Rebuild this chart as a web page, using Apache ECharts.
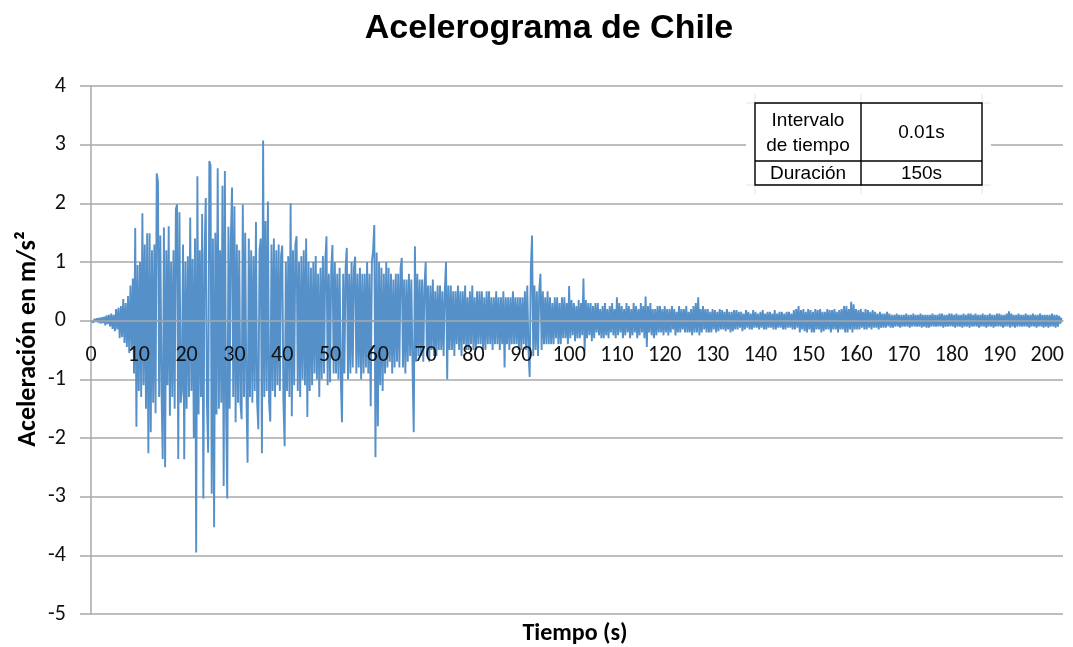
<!DOCTYPE html>
<html>
<head>
<meta charset="utf-8">
<script src="https://cdn.jsdelivr.net/npm/echarts@6/dist/echarts.min.js"></script>
<style>html,body{margin:0;padding:0;background:#fff}#c{width:1073px;height:647px}</style>
</head>
<body>
<div id="c"></div>
<script>
// ---- DATA ----
const titleText = 'Acelerograma de Chile';
const xAxisName = 'Tiempo (s)';
const yAxisName = 'Aceleración en m/s²';
const xTicks = [0,10,20,30,40,50,60,70,80,90,100,110,120,130,140,150,160,170,180,190,200];
const yTicks = [-5,-4,-3,-2,-1,0,1,2,3,4];
const tableRows = [['Intervalo\nde tiempo','0.01s'],['Duración','150s']];

// Acceleration (m/s²), one value every 0.25 s, from 0 s
const step = 0.25;
const accelA = [ // 0 – 99.75 s
 0,0.02,-0.03,0.03, -0.02,0.04,-0.03,0.05, -0.05,0.06,-0.04,0.07, -0.08,0.09,-0.06,0.1, -0.1,0.12,-0.14,0.1,
 -0.18,0.2,-0.15,0.22, -0.3,0.25,-0.28,0.37, -0.38,0.3,-0.45,0.42, -0.55,0.6,-0.5,0.72, -0.9,1.58,-1.81,0.95,
 -1.2,1.0,-1.3,1.83, -1.1,1.3,-1.5,1.49, -2.26,1.49,-1.9,1.2, -1.4,1.3,-1.58,2.51, 2.38,-1.3,1.45,-1.2,
 -2.36,1.59,-2.5,1.2, -1.1,1.61,-1.62,1.0, -1.3,1.2,-1.5,1.9, 1.98,-2.36,1.85,-1.4, -1.2,1.3,-2.36,1.0,
 -1.5,1.1,-1.3,1.76, -1.2,1.05,-2.0,1.4, -3.95,2.46,-1.6,1.2, -1.3,1.82,-3.03,1.1, 2.09,-1.4,-2.25,2.72,
 2.65,-2.95,1.4,-3.52, 1.5,-1.6,2.6,-1.5, 1.2,-1.4,2.3,-2.82, 2.55,-1.5,-3.03,1.6, -1.5,1.4,2.27,-1.3,
 1.95,-1.73,1.3,-1.4, 1.2,-1.4,-1.68,1.98, -1.3,1.5,-1.2,-2.42, 1.4,-1.3,1.2,-1.4, 1.1,-1.2,1.68,-1.4,
 -1.85,1.2,1.4,-2.26, 3.07,-1.3,1.7,-1.2, 2.03,-1.4,-1.72,1.3, -1.2,1.4,-1.3,1.2, -1.1,1.3,-1.2,1.1,
 1.28,-1.4,-2.14,1.0, -1.2,1.1,-1.3,2.0, -1.63,1.2,-1.1,1.3, 1.44,-1.2,1.0,-1.3, 1.1,-1.0,1.2,-1.1,
 1.4,-1.64,1.0,-1.2, 0.9,-1.1,1.0,-0.9, 1.1,-1.0,0.8,-1.3, 0.9,-1.0,1.1,-0.9, 1.0,1.44,-1.1,0.8,
 -1.05,0.9,1.29,-0.9, 1.0,-0.9,0.8,-1.0, 0.9,-1.0,-1.73,0.8, -0.9,0.9,1.24,-1.0, 0.8,-0.9,1.0,-0.8,
 0.9,1.09,-0.9,0.8, -0.8,0.9,-1.0,0.8, -0.9,0.8,-0.8,1.0, -0.9,0.8,-1.46,1.0, 1.2,1.63,-2.33,1.16,
 -1.8,1.0,-1.1,0.9, -1.2,0.8,-0.9,1.0, -0.8,0.9,-0.7,0.8, -0.9,0.7,-0.8,0.8, -0.7,0.8,-0.8,0.9,
 1.07,-0.8,0.7,-0.9, 0.7,-0.7,0.8,-0.6, 0.7,-0.8,-1.9,1.27, -0.7,0.8,-0.6,0.7, -0.6,0.7,-0.7,0.6,
 1.0,-0.6,0.6,-0.7, 0.6,-0.5,0.7,-0.6, 0.5,-0.6,0.6,-0.5, 0.6,-0.5,0.5,-0.6, 0.5,1.0,-1.0,0.6,
 -0.5,0.6,-0.5,0.5, -0.6,0.5,-0.4,0.6, -0.5,0.5,-0.6,0.5, -0.4,0.6,-0.5,0.4, -0.5,0.5,-0.4,0.6,
 -0.5,0.4,-0.5,0.5, -0.4,0.5,-0.4,0.5, -0.5,0.4,-0.5,0.5, -0.4,0.5,-0.4,0.4, -0.5,0.4,-0.4,0.5,
 -0.4,0.4,-0.5,0.4, -0.4,0.5,-0.8,0.4, -0.4,0.4,-0.5,0.4, -0.4,0.5,-0.4,0.4, -0.4,0.4,-0.5,0.4,
 -0.5,0.4,-0.4,0.5, -0.5,0.6,-0.5,-0.96, 0.9,1.45,-0.6,0.6, -0.5,0.5,-0.6,0.5, 0.8,-0.5,0.5,-0.4,
 0.4,-0.4,0.5,-0.4, 0.4,-0.4,0.3,-0.4, 0.4,-0.3,0.4,-0.4, 0.3,-0.4,0.4,-0.3, 0.4,-0.3,0.3,-0.4
];
const accelB = [ // 100 – 203 s
 0.59,-0.3,0.35,-0.25, 0.3,-0.35,0.25,-0.3, 0.35,-0.3,0.3,-0.25, 0.72,-0.52,0.35,-0.3, 0.3,-0.25,0.3,-0.35,
 0.25,-0.3,0.3,-0.2, 0.3,-0.25,0.2,-0.3, 0.25,-0.3,0.3,-0.25, 0.2,-0.3,0.25,-0.2, 0.3,-0.25,0.2,-0.3,
 0.4,-0.25,0.3,-0.2, 0.25,-0.3,0.2,-0.25, 0.3,-0.2,0.25,-0.3, 0.2,-0.25,0.3,-0.2, 0.25,-0.3,0.2,-0.25,
 0.3,-0.2,0.25,-0.3, 0.41,-0.45,0.25,-0.2, 0.3,-0.25,0.2,-0.3, 0.2,-0.25,0.25,-0.2, 0.25,-0.2,0.2,-0.25,
 0.25,-0.2,0.2,-0.25, 0.2,-0.2,0.25,-0.15, 0.2,-0.25,0.15,-0.2, 0.25,-0.2,0.2,-0.15, 0.2,-0.2,0.25,-0.2,
 0.15,-0.2,0.2,-0.25, 0.25,-0.2,0.3,-0.2, 0.4,-0.25,0.2,-0.2, 0.25,-0.15,0.2,-0.2, 0.2,-0.2,0.15,-0.2,
 0.2,-0.15,0.18,-0.2, 0.15,-0.18,0.2,-0.15, 0.18,-0.15,0.15,-0.18, 0.2,-0.15,0.15,-0.2, 0.15,-0.18,0.18,-0.15,
 0.18,-0.15,0.15,-0.12, 0.15,-0.18,0.12,-0.15, 0.18,-0.12,0.15,-0.15, 0.12,-0.15,0.18,-0.12, 0.15,-0.12,0.12,-0.15,
 0.15,-0.12,0.18,-0.15, 0.12,-0.15,0.15,-0.12, 0.15,-0.12,0.12,-0.15, 0.18,-0.15,0.12,-0.12, 0.15,-0.12,0.15,-0.15,
 0.12,-0.15,0.15,-0.12, 0.15,-0.12,0.12,-0.15, 0.18,-0.15,0.2,-0.12, 0.25,-0.2,0.18,-0.15, 0.2,-0.18,0.15,-0.2,
 0.2,-0.15,0.18,-0.2, 0.15,-0.2,0.2,-0.15, 0.18,-0.15,0.2,-0.2, 0.15,-0.18,0.15,-0.15, 0.2,-0.15,0.18,-0.2,
 0.18,-0.15,0.2,-0.15, 0.15,-0.2,0.18,-0.15, 0.2,-0.15,0.25,-0.2, 0.25,-0.2,0.2,-0.15, 0.32,-0.2,0.28,-0.15,
 0.2,-0.15,0.18,-0.15, 0.2,-0.12,0.15,-0.15, 0.2,-0.15,0.18,-0.12, 0.15,-0.15,0.18,-0.12, 0.15,-0.12,0.12,-0.15,
 0.15,-0.12,0.12,-0.12, 0.12,-0.12,0.15,-0.1, 0.12,-0.12,0.1,-0.12, 0.1,-0.1,0.12,-0.1, 0.1,-0.12,0.1,-0.1,
 0.1,-0.1,0.12,-0.1, 0.1,-0.12,0.1,-0.1, 0.12,-0.1,0.1,-0.1, 0.1,-0.1,0.12,-0.12, 0.1,-0.1,0.1,-0.12,
 0.1,-0.12,0.1,-0.1, 0.12,-0.1,0.1,-0.1, 0.1,-0.1,0.12,-0.1, 0.12,-0.12,0.1,-0.1, 0.1,-0.1,0.12,-0.1,
 0.12,-0.1,0.1,-0.12, 0.12,-0.1,0.1,-0.1, 0.1,-0.12,0.12,-0.1, 0.1,-0.1,0.12,-0.12, 0.12,-0.1,0.1,-0.1,
 0.12,-0.1,0.1,-0.12, 0.1,-0.1,0.12,-0.1, 0.1,-0.12,0.1,-0.1, 0.12,-0.1,0.1,-0.12, 0.1,-0.1,0.12,-0.1,
 0.12,-0.1,0.1,-0.12, 0.1,-0.1,0.12,-0.1, 0.16,-0.12,0.12,-0.1, 0.1,-0.12,0.1,-0.1, 0.12,-0.1,0.1,-0.1,
 0.1,-0.1,0.12,-0.1, 0.1,-0.12,0.1,-0.1, 0.12,-0.1,0.1,-0.12, 0.1,-0.1,0.12,-0.1, 0.1,-0.12,0.1,-0.1,
 0.1,-0.12,0.1,-0.1, 0.12,-0.1,0.1,-0.12, 0.1,-0.1,0.08,-0.05, 0.05
];

// ---- build ----
const accel = accelA.concat(accelB);
const seriesData = accel.map((v,i)=>[+(i*step).toFixed(2), v]);

const gridCol = '#a8a8a8';
const lineCol = '#5590c8';
const labelFont = 'Carlito, "Liberation Sans Narrow", "Open Sans", sans-serif';
const chart = echarts.init(document.getElementById('c'), null, {renderer:'canvas'});

const tblX = 755, tblY = 103, c1 = 106, c2 = 121, r1 = 58, r2 = 24;
const tFont = '19px "Liberation Sans", Arial, sans-serif';
const faint = '#dfe4ec';
const tableGraphics = [
  {type:'rect', shape:{x:tblX-9,y:tblY-9,width:c1+c2+18,height:r1+r2+18}, style:{fill:'#fff'}, z:10},
  {type:'line', shape:{x1:tblX,y1:tblY-9,x2:tblX,y2:tblY+r1+r2+9}, style:{stroke:faint,lineWidth:1}, z:11},
  {type:'line', shape:{x1:tblX+c1,y1:tblY-9,x2:tblX+c1,y2:tblY+r1+r2+9}, style:{stroke:faint,lineWidth:1}, z:11},
  {type:'line', shape:{x1:tblX+c1+c2,y1:tblY-9,x2:tblX+c1+c2,y2:tblY+r1+r2+9}, style:{stroke:faint,lineWidth:1}, z:11},
  {type:'line', shape:{x1:tblX-9,y1:tblY,x2:tblX+c1+c2+9,y2:tblY}, style:{stroke:faint,lineWidth:1}, z:11},
  {type:'line', shape:{x1:tblX-9,y1:tblY+r1+r2,x2:tblX+c1+c2+9,y2:tblY+r1+r2}, style:{stroke:faint,lineWidth:1}, z:11},
  {type:'rect', shape:{x:tblX,y:tblY,width:c1+c2,height:r1+r2}, style:{fill:null,stroke:'#000',lineWidth:1.4}, z:12},
  {type:'line', shape:{x1:tblX+c1,y1:tblY,x2:tblX+c1,y2:tblY+r1+r2}, style:{stroke:'#000',lineWidth:1.4}, z:12},
  {type:'line', shape:{x1:tblX,y1:tblY+r1,x2:tblX+c1+c2,y2:tblY+r1}, style:{stroke:'#000',lineWidth:1.4}, z:12},
  {type:'text', x:tblX+c1/2, y:tblY+r1/2+1, style:{text:tableRows[0][0], fill:'#000', font:tFont, textAlign:'center', textVerticalAlign:'middle', lineHeight:25}, z:13},
  {type:'text', x:tblX+c1+c2/2, y:tblY+r1/2+1, style:{text:tableRows[0][1], fill:'#000', font:tFont, textAlign:'center', textVerticalAlign:'middle'}, z:13},
  {type:'text', x:tblX+c1/2, y:tblY+r1+r2/2+1, style:{text:tableRows[1][0], fill:'#000', font:tFont, textAlign:'center', textVerticalAlign:'middle'}, z:13},
  {type:'text', x:tblX+c1+c2/2, y:tblY+r1+r2/2+1, style:{text:tableRows[1][1], fill:'#000', font:tFont, textAlign:'center', textVerticalAlign:'middle'}, z:13}
];

chart.setOption({
  animation:false,
  backgroundColor:'#fff',
  grid:{left:91, right:10, top:86, bottom:33, containLabel:false, outerBoundsMode:'none'},
  xAxis:{
    type:'value', min:0, max:203.3, interval:10, offset:0, z:6,
    axisLine:{show:true, onZero:false, lineStyle:{color:gridCol, width:1.5}},
    axisTick:{show:false},
    splitLine:{show:false},
    axisLabel:{showMaxLabel:false, margin:24, color:'#111', fontSize:22, fontFamily:labelFont,
      formatter:(v)=> xTicks.includes(v) ? String(v) : ''}
  },
  yAxis:{
    type:'value', min:yTicks[0], max:yTicks[yTicks.length-1], interval:1,
    axisLine:{show:true, lineStyle:{color:gridCol, width:1.5}},
    axisTick:{show:true, length:11, lineStyle:{color:gridCol, width:1.5}},
    splitLine:{show:true, lineStyle:{color:gridCol, width:1.5}},
    axisLabel:{margin:25, color:'#111', fontSize:22, fontFamily:labelFont}
  },
  graphic:[
    {type:'text', x:549, y:29, style:{text:titleText, fill:'#000', font:'bold 34px "Liberation Sans", Arial, sans-serif', textAlign:'center', textVerticalAlign:'middle'}, z:5},
    {type:'text', x:575, y:634, style:{text:xAxisName, fill:'#000', font:'bold 24px ' + labelFont, textAlign:'center', textVerticalAlign:'middle'}, z:5},
    {type:'text', x:28, y:339, rotation:Math.PI/2, style:{text:yAxisName, fill:'#000', font:'bold 26px ' + labelFont, textAlign:'center', textVerticalAlign:'middle'}, z:5},
    ...tableGraphics
  ],
  series:[{
    type:'line', data:seriesData, showSymbol:false, symbol:'none',
    lineStyle:{color:lineCol, width:1.9},
    z:3
  }]
});

// place the horizontal axis (line + labels) at acceleration 0, as in the original
const yZero = chart.convertToPixel({yAxisIndex:0}, 0);
const yBottom = chart.convertToPixel({yAxisIndex:0}, yTicks[0]);
chart.setOption({xAxis:{offset: yZero - yBottom}});
</script>
</body>
</html>
